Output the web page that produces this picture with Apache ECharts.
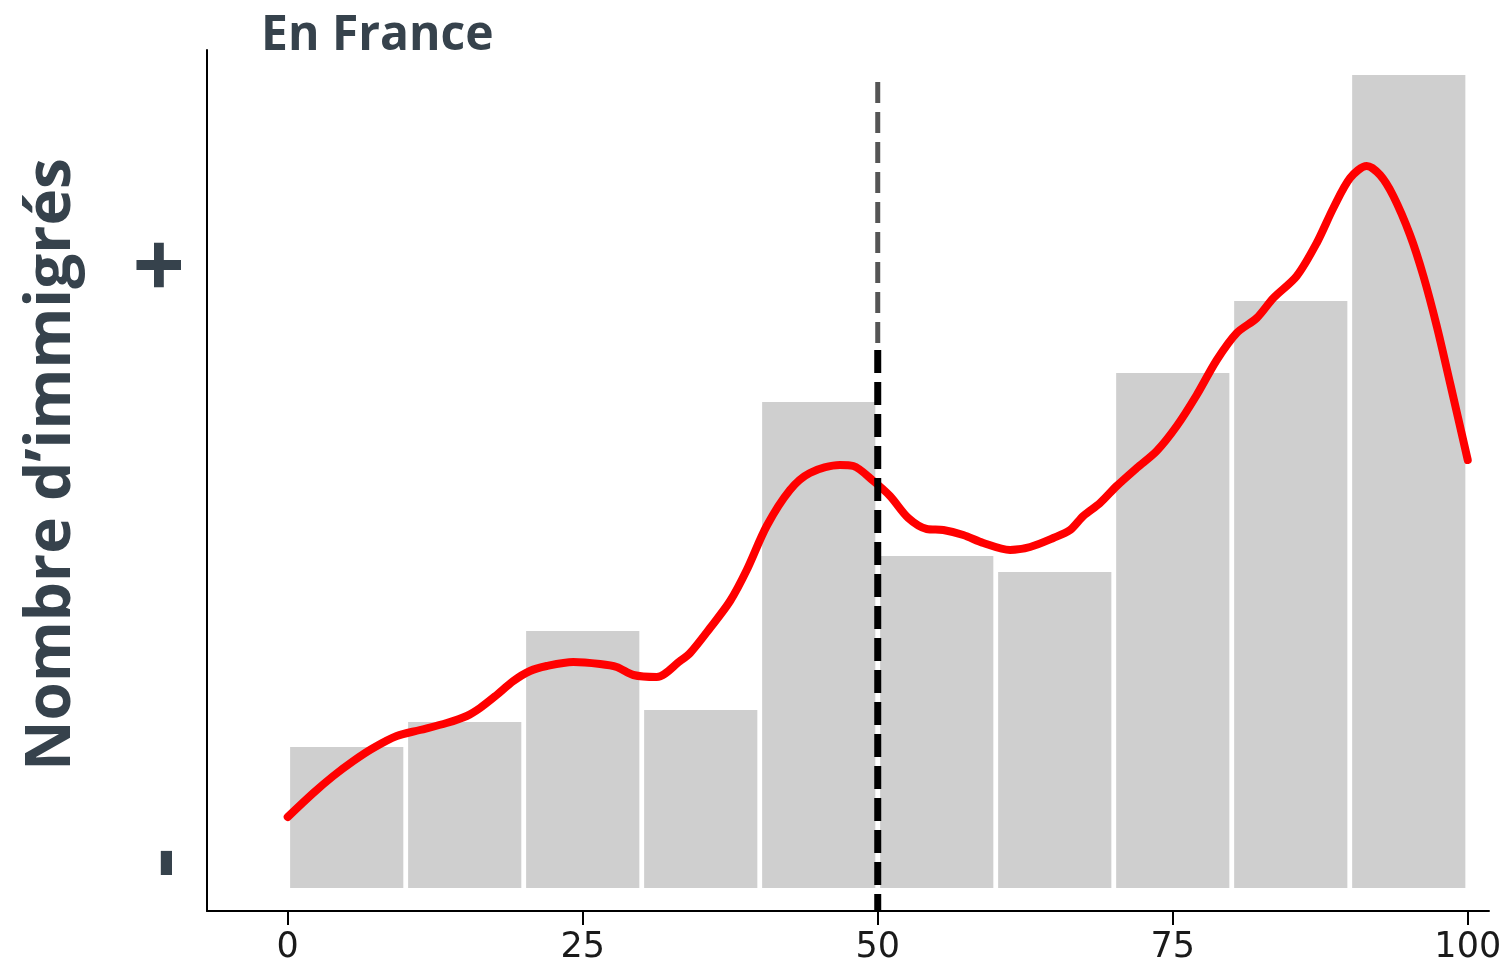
<!DOCTYPE html>
<html>
<head>
<meta charset="utf-8">
<script src="https://cdn.jsdelivr.net/npm/echarts@6/dist/echarts.min.js"></script>
<style>
  html, body { margin: 0; padding: 0; background: #ffffff; }
  #chart { width: 1509px; height: 966px; }
</style>
</head>
<body>
<div id="chart"></div>
<script>
// ---- Data ----
const binLeft  = [0, 10, 20, 30, 40, 50, 60, 70, 80, 90];
const binRight = [10, 20, 30, 40, 50, 60, 70, 80, 90, 100];
const binCounts = [141, 166, 257, 178, 486, 332, 316, 515, 587, 813];

const curveX = [0, 2.17, 3.86, 5.56, 7.25, 9.24, 11.21, 13.47, 15.17, 16.30, 17.71, 19.12, 20.53, 21.95,
  24.20, 26.47, 27.88, 29.29, 31.27, 33.25, 34.1, 35.79, 37.49, 38.9, 40.59, 42.56, 44.25, 46.80, 47.93,
  49.63, 51.04, 52.59, 54.15, 55.56, 57.25, 58.95, 61.21, 62.91, 64.88, 66.30, 67.42, 68.84, 70.25,
  71.95, 73.64, 75.34, 77.03, 78.73, 80.42, 82.12, 83.53, 85.51, 87.20, 88.61, 90.03, 91.44, 92.57,
  93.69, 95.11, 96.24, 97.37, 98.50, 100];
const curveY = [71, 95, 112, 127, 140, 152, 158, 165, 172, 180, 193, 207, 217, 222,
  226, 224, 221, 213, 211, 227, 235, 260, 287, 318, 362, 398, 415, 423, 422,
  407, 392, 370, 359, 358, 353, 345, 338, 341, 350, 358, 372, 385, 402,
  420, 437, 462, 493, 528, 555, 570, 590, 612, 645, 680, 710, 722, 713,
  692, 653, 612, 562, 505, 428];

const xTickValues = [0, 25, 50, 75, 100];
const yTickValues = [25, 623];
const yTickLabels = ['-', '+'];
const medianX = 50;
const medianUpper = [806, 543];   // grey thin dashed part (top, bottom)
const medianLower = [538, -23];   // black thick dashed part (top, bottom)

const titleText = 'En France';
const yName = 'Nombre d\u2019immigrés';

// ---- Build option ----
const barData = binLeft.map((l, i) => [l, binRight[i], binCounts[i]]);
const curveData = curveX.map((x, i) => [x, curveY[i]]);

const chart = echarts.init(document.getElementById('chart'), null, { renderer: 'canvas' });

const option = {
  backgroundColor: '#ffffff',
  animation: false,
  title: {
    text: titleText,
    left: 256,
    top: 7,
    textStyle: { fontFamily: 'Open Sans', fontWeight: 'bold', fontSize: 48, color: '#36424c' }
  },
  grid: { left: 207, right: 20, top: 50, bottom: 55, containLabel: false },
  xAxis: {
    type: 'value',
    min: -6.84,
    max: 101.8,
    axisLine: { show: true, onZero: false, lineStyle: { color: '#000000', width: 2 } },
    axisTick: { show: true, customValues: xTickValues, length: 14, lineStyle: { color: '#000000', width: 2 } },
    axisLabel: {
      customValues: xTickValues,
      fontFamily: 'DejaVu Sans',
      fontSize: 35,
      color: '#1a1a1a',
      margin: 19
    },
    splitLine: { show: false }
  },
  yAxis: {
    type: 'value',
    min: -23,
    max: 838,
    name: yName,
    nameLocation: 'middle',
    nameGap: 124,
    nameTextStyle: {
      fontFamily: 'Open Sans', fontWeight: 'bold', fontSize: 62, color: '#36424c',
      padding: [0, 0, 0, 32]
    },
    axisLine: { show: true, onZero: false, lineStyle: { color: '#000000', width: 2 } },
    axisTick: { show: false },
    axisLabel: {
      customValues: yTickValues,
      formatter: function (v) {
        const i = yTickValues.indexOf(v);
        return i >= 0 ? yTickLabels[i] : '';
      },
      rotate: 90,
      fontFamily: 'Open Sans', fontWeight: 'bold', fontSize: 92, color: '#36424c',
      margin: -4
    },
    splitLine: { show: false }
  },
  series: [
    {
      type: 'custom',
      name: 'histogram',
      data: barData,
      encode: { x: [0, 1], y: 2 },
      z: 1,
      renderItem: function (params, api) {
        const topLeft = api.coord([api.value(0), api.value(2)]);
        const bottomRight = api.coord([api.value(1), 0]);
        const inset = 2.4;
        return {
          type: 'rect',
          shape: {
            x: topLeft[0] + inset,
            y: topLeft[1],
            width: bottomRight[0] - topLeft[0] - 2 * inset,
            height: bottomRight[1] - topLeft[1]
          },
          style: { fill: '#cfcfcf' }
        };
      }
    },
    {
      type: 'line',
      name: 'density',
      data: curveData,
      smooth: 0.3,
      symbol: 'none',
      z: 3,
      lineStyle: { color: '#ff0000', width: 8, cap: 'round', join: 'round' }
    },
    {
      type: 'line',
      name: 'median-white',
      data: [[medianX, medianLower[0]], [medianX, medianLower[1]]],
      symbol: 'none',
      z: 4,
      lineStyle: { color: '#ffffff', width: 3 }
    },
    {
      type: 'line',
      name: 'median-upper',
      data: [[medianX, medianUpper[0]], [medianX, medianUpper[1]]],
      symbol: 'none',
      z: 5,
      lineStyle: { color: '#555555', width: 5, type: [21, 9] }
    },
    {
      type: 'line',
      name: 'median-lower',
      data: [[medianX, medianLower[0]], [medianX, medianLower[1]]],
      symbol: 'none',
      z: 5,
      lineStyle: { color: '#000000', width: 7, type: [23, 9] }
    }
  ]
};
chart.setOption(option);
</script>
</body>
</html>
